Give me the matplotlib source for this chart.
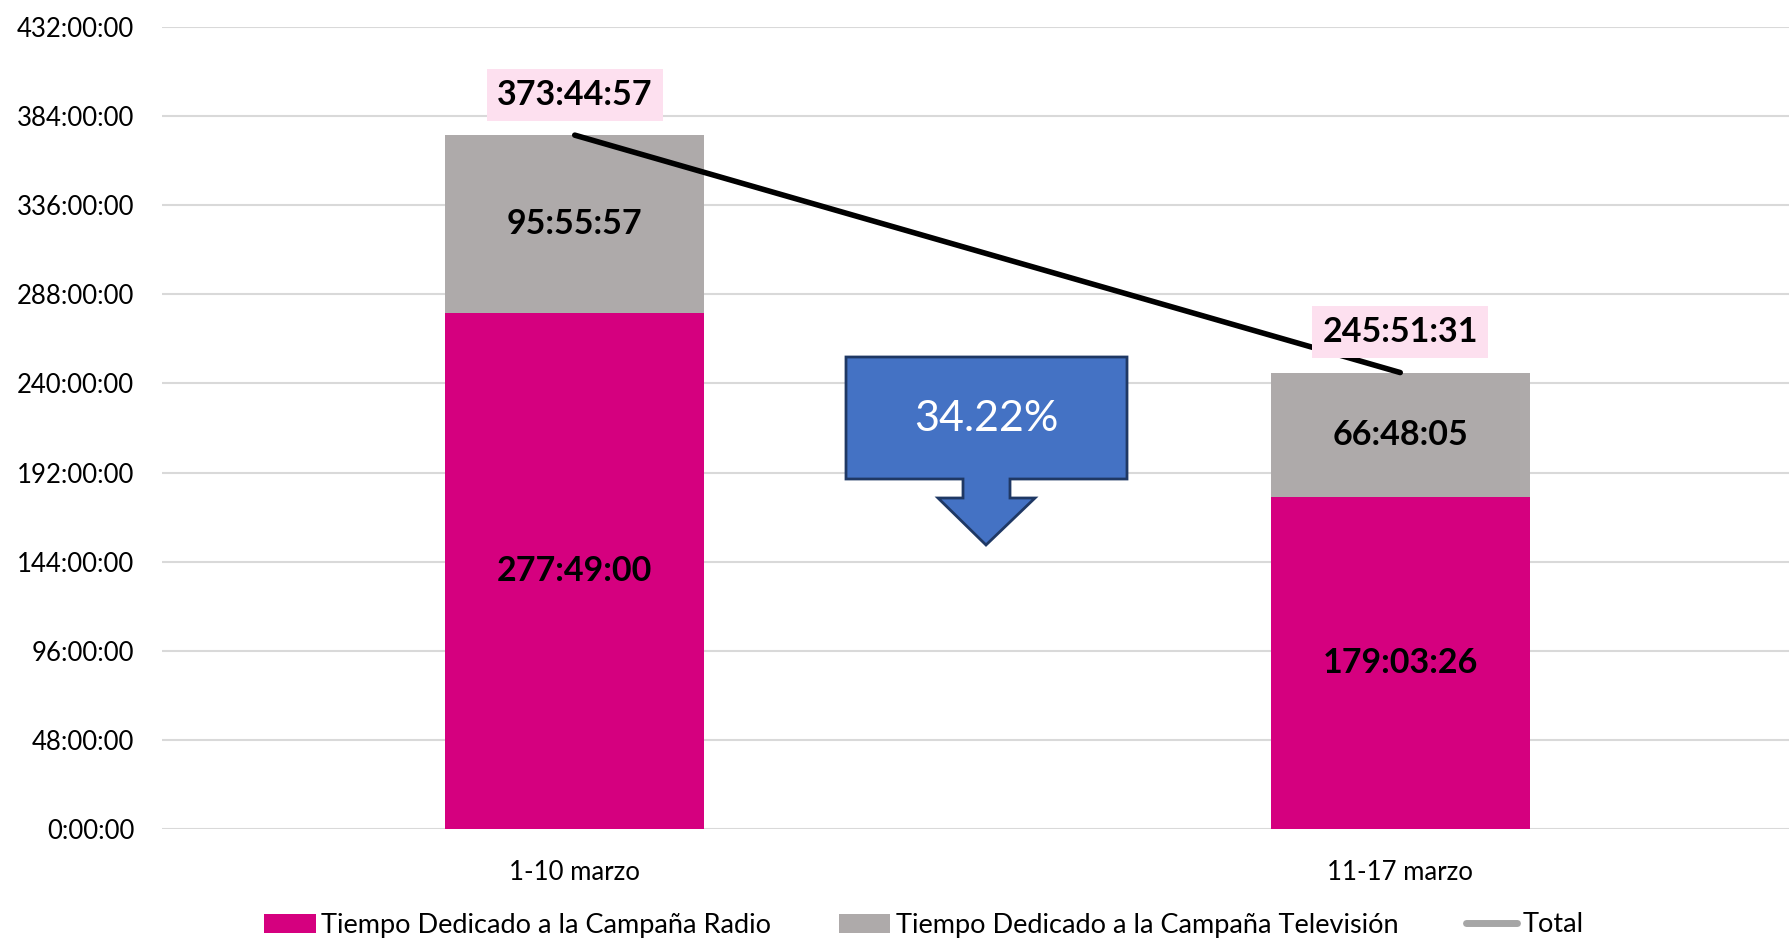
import matplotlib
matplotlib.use("Agg")
import matplotlib.pyplot as plt
from matplotlib.patches import Polygon, Patch
from matplotlib.lines import Line2D
from matplotlib.ticker import FuncFormatter, MultipleLocator

categories = ["1-10 marzo", "11-17 marzo"]
radio = ["277:49:00", "179:03:26"]
tv = ["95:55:57", "66:48:05"]
total = ["373:44:57", "245:51:31"]
callout_text = "34.22%"
series_names = ["Tiempo Dedicado a la Campaña Radio",
                "Tiempo Dedicado a la Campaña Televisión", "Total"]


def to_hours(s):
    h, m, sec = (int(p) for p in s.split(":"))
    return h + m / 60 + sec / 3600


radio_h = [to_hours(s) for s in radio]
tv_h = [to_hours(s) for s in tv]
total_h = [to_hours(s) for s in total]

FONT = ["Lato", "DejaVu Sans"]
plt.rcParams["font.family"] = FONT

W, H = 1789, 940
fig = plt.figure(figsize=(W / 100, H / 100), dpi=100)
ax = fig.add_axes([162 / W, 1 - 829 / H, (W - 162) / W, 802 / H])

x = list(range(len(categories)))
bw = 0.314
C_RADIO = "#D5007F"
C_TV = "#AEAAAA"
ax.bar(x, radio_h, bw, color=C_RADIO, zorder=2)
ax.bar(x, tv_h, bw, bottom=radio_h, color=C_TV, zorder=2)
ax.plot(x, total_h, color="black", lw=4, solid_capstyle="round", zorder=3)

ax.set_ylim(0, 432)
ax.set_xlim(-0.5, -0.5 + (W - 162) / 825.5)
ax.yaxis.set_major_locator(MultipleLocator(48))
ax.yaxis.set_major_formatter(FuncFormatter(lambda v, p: f"{int(round(v))}:00:00"))
ax.grid(axis="y", color="#D9D9D9", lw=1.5, zorder=0)
ax.set_axisbelow(True)
for s in ax.spines.values():
    s.set_visible(False)
ax.tick_params(axis="both", length=0, labelsize=18.5)
ax.tick_params(axis="y", pad=20)
ax.tick_params(axis="x", pad=22)
ax.set_xticks(x)
ax.set_xticklabels(categories)

for i in x:
    ax.text(i, radio_h[i] / 2, radio[i], ha="center", va="center",
            fontsize=24.5, fontweight="bold", color="black", zorder=4)
    ax.text(i, radio_h[i] + tv_h[i] / 2, tv[i], ha="center", va="center",
            fontsize=24.5, fontweight="bold", color="black", zorder=4)
    ax.annotate(total[i], (i, total_h[i]), xytext=(0, 29),
                textcoords="offset points", ha="center", va="center",
                fontsize=24.5, fontweight="bold", color="black", zorder=5,
                bbox=dict(boxstyle="square,pad=0.3", fc="#FDE0EF", ec="none"))


# callout arrow (figure pixel coords -> figure fraction)
def fp(px, py):
    return (px / W, 1 - py / H)


pts = [fp(846, 357), fp(1127, 357), fp(1127, 479), fp(1010, 479),
       fp(1010, 498), fp(1035, 498), fp(986, 545), fp(938, 498),
       fp(963, 498), fp(963, 479), fp(846, 479)]
fig.patches.append(Polygon(pts, closed=True, transform=fig.transFigure,
                           fc="#4472C4", ec="#1F3864", lw=2, zorder=6))
fig.text(986 / W, 1 - 419 / H, callout_text, ha="center", va="center",
         color="white", fontsize=31, zorder=7)

handles = [Patch(fc=C_RADIO, ec="none"), Patch(fc=C_TV, ec="none"),
           Line2D([0], [0], color="#A6A6A6", lw=5, solid_capstyle="round")]
fig.legend(handles, series_names, loc="center", bbox_to_anchor=(924 / W, 1 - 925 / H),
           ncol=3, frameon=False, fontsize=19.5, handlelength=1.9, handleheight=0.7,
           columnspacing=2.5, handletextpad=0.2)

fig.savefig("out.png", dpi=100)
